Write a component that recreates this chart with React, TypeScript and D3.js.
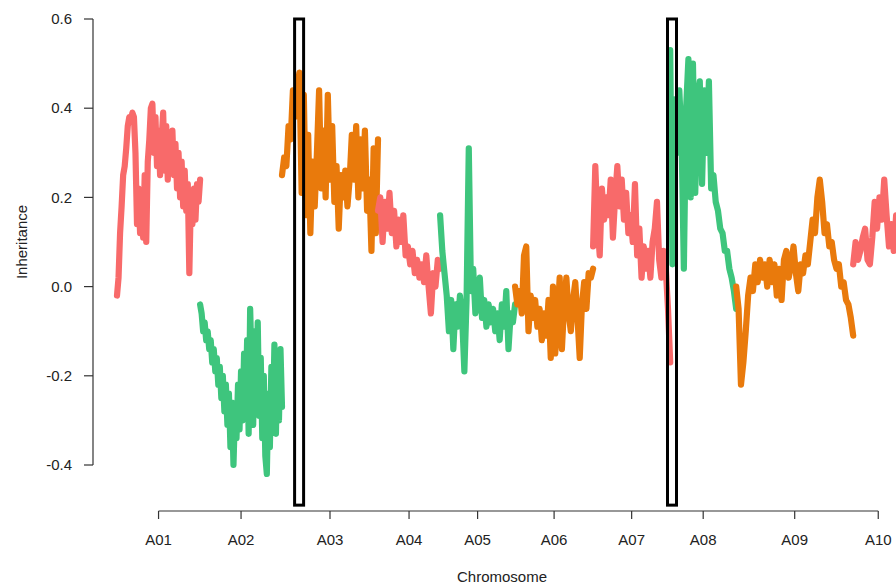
import React from "react";
import * as d3 from "d3";

const chromosomes = ["A01", "A02", "A03", "A04", "A05", "A06", "A07", "A08", "A09", "A10"];
const chromLengths = [27.7, 27.3, 32, 20.7, 25, 26, 25.7, 22, 39, 16.7];
const yTicks = [-0.4, -0.2, 0.0, 0.2, 0.4, 0.6];

const a01 = [-0.02, 0.02, 0.12, 0.18, 0.25, 0.27, 0.31, 0.36, 0.38, 0.37, 0.39, 0.38, 0.30, 0.14, 0.22, 0.12, 0.20, 0.11, 0.25, 0.10, 0.28, 0.33, 0.40, 0.41, 0.30, 0.38, 0.27, 0.35, 0.25, 0.33, 0.39, 0.26, 0.36, 0.24, 0.34, 0.27, 0.35, 0.25, 0.32, 0.22, 0.30, 0.20, 0.28, 0.18, 0.26, 0.17, 0.23, 0.03, 0.20, 0.14, 0.22, 0.15, 0.23, 0.19, 0.24];
const a02 = [-0.04, -0.06, -0.10, -0.08, -0.12, -0.10, -0.14, -0.12, -0.17, -0.14, -0.19, -0.16, -0.22, -0.18, -0.25, -0.20, -0.28, -0.22, -0.31, -0.24, -0.36, -0.26, -0.40, -0.28, -0.34, -0.22, -0.32, -0.19, -0.30, -0.15, -0.28, -0.12, -0.33, -0.05, -0.18, -0.31, -0.10, -0.26, -0.08, -0.29, -0.16, -0.34, -0.20, -0.38, -0.42, -0.24, -0.36, -0.18, -0.31, -0.13, -0.33, -0.15, -0.30, -0.14, -0.27];
const a03 = [0.25, 0.29, 0.27, 0.36, 0.33, 0.44, 0.38, 0.45, 0.48, 0.21, 0.43, 0.16, 0.34, 0.12, 0.28, 0.18, 0.30, 0.44, 0.22, 0.35, 0.20, 0.43, 0.24, 0.36, 0.19, 0.27, 0.13, 0.25, 0.20, 0.26, 0.18, 0.24, 0.34, 0.24, 0.36, 0.20, 0.33, 0.22, 0.35, 0.17, 0.24, 0.08, 0.31, 0.12, 0.33];
const a04 = [0.17, 0.20, 0.10, 0.19, 0.13, 0.21, 0.12, 0.17, 0.09, 0.15, 0.10, 0.16, 0.07, 0.09, 0.05, 0.08, 0.03, 0.06, 0.02, 0.05, 0.01, 0.07, 0.00, -0.06, 0.03, 0.00, 0.06, 0.04];
const a05 = [0.16, 0.08, 0.03, -0.02, -0.10, -0.03, -0.14, -0.04, -0.09, -0.02, -0.07, -0.19, -0.03, 0.31, -0.01, 0.04, -0.06, -0.02, 0.02, -0.07, -0.03, -0.09, -0.04, -0.08, -0.05, -0.10, -0.06, -0.12, -0.04, -0.09, -0.01, -0.14, -0.06, -0.08, -0.04];
const a06 = [0.00, -0.04, -0.01, -0.06, 0.07, 0.09, -0.10, -0.02, -0.07, -0.03, -0.09, -0.05, -0.12, -0.06, -0.11, -0.03, -0.16, 0.00, -0.15, -0.07, 0.02, -0.14, -0.04, 0.02, -0.06, -0.10, -0.03, 0.01, -0.07, -0.16, -0.04, 0.01, -0.05, 0.03, 0.02, 0.04];
const a07 = [0.09, 0.27, 0.14, 0.07, 0.22, 0.15, 0.20, 0.16, 0.24, 0.11, 0.20, 0.27, 0.18, 0.24, 0.15, 0.21, 0.12, 0.16, 0.10, 0.23, 0.07, 0.13, 0.02, 0.09, 0.04, 0.08, 0.02, 0.10, 0.13, 0.19, 0.06, 0.02, 0.08, 0.04, -0.05, -0.17];
const a08 = [0.53, 0.05, 0.42, 0.30, 0.44, 0.33, 0.04, 0.40, 0.51, 0.20, 0.50, 0.21, 0.42, 0.46, 0.23, 0.44, 0.30, 0.46, 0.22, 0.25, 0.19, 0.17, 0.13, 0.12, 0.08, 0.08, 0.04, 0.02, -0.01, -0.05];
const a09 = [0.00, -0.05, -0.22, -0.17, -0.10, -0.02, 0.02, -0.01, 0.05, 0.01, 0.06, 0.02, 0.05, 0.00, 0.06, 0.01, 0.05, -0.02, 0.04, -0.03, 0.06, 0.08, 0.02, 0.05, 0.09, 0.03, -0.01, 0.05, 0.03, 0.07, 0.05, 0.10, 0.15, 0.12, 0.20, 0.24, 0.19, 0.12, 0.14, 0.09, 0.10, 0.06, 0.04, 0.05, 0.00, 0.01, -0.03, -0.04, -0.07, -0.11];
const a10 = [0.05, 0.10, 0.06, 0.08, 0.11, 0.13, 0.06, 0.05, 0.11, 0.19, 0.13, 0.20, 0.15, 0.24, 0.16, 0.09, 0.14, 0.08, 0.16, 0.12, 0.14, 0.12];

const seriesValues = [a01, a02, a03, a04, a05, a06, a07, a08, a09, a10];
const palette = ["#F86A6A", "#3EC57D", "#E97A0C"];

// highlighted regions (genome position, cumulative Mb)
const highlightStart = [59.2, 183.5];
const highlightEnd = [62.2, 186.5];
const highlightLow = -0.49;
const highlightHigh = 0.6;

const W = 896;
const H = 585;

export default function App() {
  const total = d3.sum(chromLengths);
  const starts = chromLengths.map((_, i) => d3.sum(chromLengths.slice(0, i)));
  const x = d3.scaleLinear().domain([0, total]).range([117, 117 + 3 * total]);
  const y = d3.scaleLinear().domain([-0.4, 0.6]).range([465, 19]);

  const line = d3
    .line<[number, number]>()
    .x((d) => x(d[0]))
    .y((d) => y(d[1]));

  const mids = chromLengths.map((len, i) => starts[i] + len / 2);
  const axisX0 = x(mids[0]);
  const axisX1 = x(mids[mids.length - 1]);
  const axisY = 511;
  const yAxisX = 93;

  return (
    <svg
      width={W}
      height={H}
      style={{ position: "absolute", left: 0, top: 0, background: "#fff" }}
      fontFamily="'Liberation Sans', Arial, sans-serif"
    >
      <rect x={0} y={0} width={W} height={H} fill="#fff" />
      {seriesValues.map((vals, i) => {
        const pts: [number, number][] = vals.map((v, j) => [
          starts[i] + (j / (vals.length - 1)) * chromLengths[i],
          v,
        ]);
        return (
          <path
            key={chromosomes[i]}
            d={line(pts) || ""}
            fill="none"
            stroke={palette[i % 3]}
            strokeWidth={6.2}
            strokeLinejoin="round"
            strokeLinecap="round"
          />
        );
      })}
      {highlightStart.map((s, i) => (
        <rect
          key={"hl" + i}
          x={x(s)}
          y={y(highlightHigh)}
          width={x(highlightEnd[i]) - x(s)}
          height={y(highlightLow) - y(highlightHigh)}
          fill="none"
          stroke="#000"
          strokeWidth={3}
        />
      ))}
      {/* y axis */}
      <line x1={yAxisX} x2={yAxisX} y1={y(-0.4)} y2={y(0.6)} stroke="#333" strokeWidth={1.2} />
      {yTicks.map((t) => (
        <g key={"yt" + t}>
          <line x1={yAxisX - 9} x2={yAxisX} y1={y(t)} y2={y(t)} stroke="#333" strokeWidth={1.2} />
          <text x={72} y={y(t)} dy="0.35em" textAnchor="end" fontSize={15} fill="#222">
            {t.toFixed(1)}
          </text>
        </g>
      ))}
      <text
        transform={`translate(27,${(y(-0.4) + y(0.6)) / 2}) rotate(-90)`}
        textAnchor="middle"
        fontSize={15}
        fill="#222"
      >
        Inheritance
      </text>
      {/* x axis */}
      <line x1={axisX0} x2={axisX1} y1={axisY} y2={axisY} stroke="#333" strokeWidth={1.2} />
      {mids.map((m, i) => (
        <g key={"xt" + i}>
          <line x1={x(m)} x2={x(m)} y1={axisY} y2={axisY + 8} stroke="#333" strokeWidth={1.2} />
          <text x={x(m)} y={545} textAnchor="middle" fontSize={15} fill="#222">
            {chromosomes[i]}
          </text>
        </g>
      ))}
      <text x={502} y={582} textAnchor="middle" fontSize={15} fill="#222">
        Chromosome
      </text>
    </svg>
  );
}
